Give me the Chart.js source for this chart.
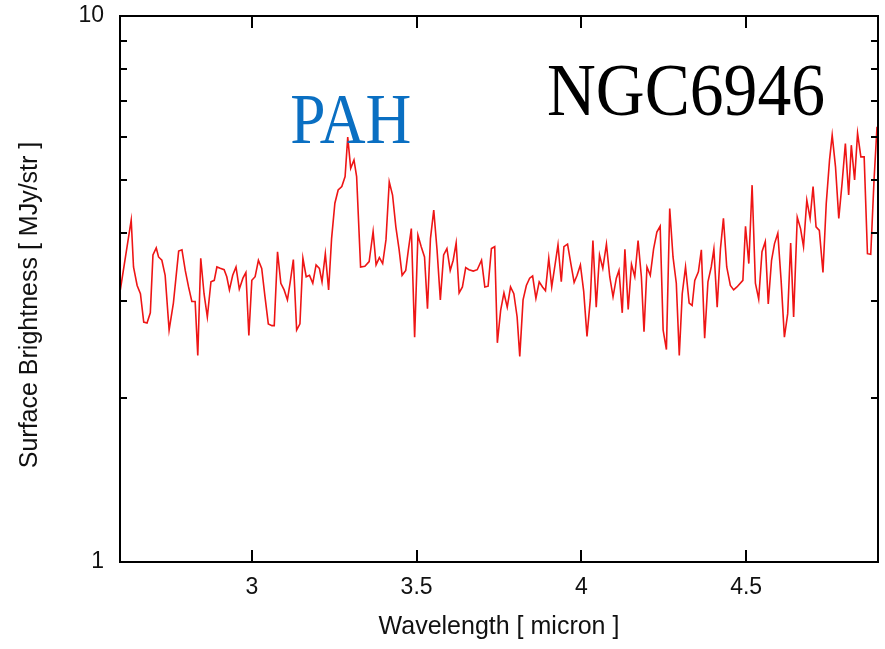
<!DOCTYPE html>
<html>
<head>
<meta charset="utf-8">
<title>NGC6946 spectrum</title>
<script src="https://cdn.jsdelivr.net/npm/chart.js@4/dist/chart.umd.min.js"></script>
<style>
  html, body { margin: 0; padding: 0; background: #ffffff; }
  #wrap { width: 885px; height: 649px; }
</style>
</head>
<body>
<div id="wrap"><canvas id="c" width="885" height="649"></canvas></div>
<script>
// Wavelength grid [micron]
const wavelength = [
  2.601, 2.634, 2.641, 2.652, 2.662, 2.672, 2.682, 2.692, 2.700, 2.710,
  2.717, 2.727, 2.737, 2.749, 2.762, 2.778, 2.788, 2.798, 2.808, 2.818,
  2.828, 2.836, 2.845, 2.855, 2.865, 2.876, 2.886, 2.894, 2.904, 2.916,
  2.924, 2.932, 2.942, 2.952, 2.962, 2.973, 2.982, 2.991, 3.000, 3.010,
  3.020, 3.030, 3.040, 3.050, 3.061, 3.068, 3.078, 3.088, 3.098, 3.108,
  3.116, 3.126, 3.136, 3.146, 3.155, 3.165, 3.175, 3.185, 3.195, 3.205,
  3.213, 3.223, 3.233, 3.242, 3.252, 3.262, 3.273, 3.283, 3.291, 3.300,
  3.310, 3.318, 3.330, 3.343, 3.356, 3.368, 3.377, 3.387, 3.397, 3.407,
  3.417, 3.427, 3.437, 3.447, 3.456, 3.467, 3.475, 3.484, 3.494, 3.504,
  3.514, 3.524, 3.533, 3.542, 3.552, 3.562, 3.572, 3.582, 3.592, 3.602,
  3.611, 3.620, 3.629, 3.639, 3.649, 3.659, 3.672, 3.684, 3.697, 3.707,
  3.717, 3.727, 3.737, 3.745, 3.755, 3.765, 3.775, 3.785, 3.795, 3.805,
  3.813, 3.823, 3.833, 3.843, 3.852, 3.862, 3.872, 3.882, 3.891, 3.901,
  3.910, 3.920, 3.929, 3.939, 3.947, 3.958, 3.968, 3.978, 3.987, 3.997,
  4.007, 4.017, 4.027, 4.035, 4.045, 4.055, 4.065, 4.076, 4.086, 4.096,
  4.106, 4.114, 4.124, 4.132, 4.142, 4.152, 4.162, 4.172, 4.182, 4.190,
  4.199, 4.209, 4.219, 4.229, 4.239, 4.248, 4.258, 4.268, 4.278, 4.288,
  4.297, 4.306, 4.316, 4.327, 4.336, 4.344, 4.355, 4.364, 4.374, 4.384,
  4.394, 4.402, 4.412, 4.422, 4.431, 4.441, 4.452, 4.462, 4.472, 4.490,
  4.498, 4.508, 4.518, 4.528, 4.538, 4.548, 4.558, 4.567, 4.577, 4.586,
  4.596, 4.606, 4.616, 4.626, 4.635, 4.644, 4.655, 4.665, 4.674, 4.684,
  4.694, 4.703, 4.712, 4.722, 4.733, 4.743, 4.753, 4.761, 4.771, 4.781,
  4.791, 4.801, 4.811, 4.819, 4.829, 4.838, 4.848, 4.858, 4.868, 4.878,
  4.888, 4.897
];

// Surface brightness [MJy/str]
const brightness = [
  3.15, 4.23, 3.47, 3.21, 3.10, 2.75, 2.74, 2.86, 3.65, 3.76,
  3.62, 3.57, 3.35, 2.66, 2.98, 3.71, 3.73, 3.42, 3.19, 3.00,
  3.00, 2.39, 3.60, 3.10, 2.81, 3.26, 3.28, 3.47, 3.45, 3.43,
  3.33, 3.15, 3.35, 3.47, 3.16, 3.31, 3.39, 2.60, 3.28, 3.33,
  3.57, 3.45, 3.06, 2.73, 2.71, 2.71, 3.70, 3.24, 3.15, 3.02,
  3.24, 3.58, 2.66, 2.73, 3.60, 3.33, 3.35, 3.24, 3.50, 3.45,
  3.26, 3.67, 3.15, 3.91, 4.54, 4.80, 4.87, 5.08, 6.00, 5.26,
  5.45, 5.08, 3.47, 3.48, 3.55, 4.03, 3.50, 3.61, 3.52, 3.89,
  4.97, 4.70, 4.11, 3.73, 3.35, 3.42, 3.73, 4.08, 2.58, 3.97,
  3.78, 3.62, 2.91, 3.91, 4.41, 3.73, 3.02, 3.65, 3.75, 3.42,
  3.57, 3.84, 3.11, 3.19, 3.46, 3.43, 3.41, 3.43, 3.57, 3.19,
  3.20, 3.75, 3.78, 2.52, 2.89, 3.11, 2.93, 3.19, 3.10, 2.81,
  2.38, 3.02, 3.21, 3.31, 3.34, 3.04, 3.26, 3.19, 3.14, 3.60,
  3.19, 3.50, 3.81, 3.26, 3.78, 3.82, 3.52, 3.25, 3.35, 3.50,
  3.13, 2.59, 3.02, 3.88, 2.93, 3.65, 3.45, 3.82, 3.33, 3.06,
  3.31, 3.42, 2.86, 3.74, 2.90, 3.51, 3.33, 3.88, 3.33, 2.64,
  3.47, 3.35, 3.74, 4.02, 4.12, 2.66, 2.45, 4.44, 3.62, 3.24,
  2.39, 3.10, 3.47, 2.98, 2.95, 3.28, 3.40, 3.73, 2.57, 3.26,
  3.47, 3.74, 2.93, 3.75, 4.26, 3.47, 3.21, 3.15, 3.19, 3.28,
  4.12, 3.52, 4.90, 3.24, 3.03, 3.70, 3.86, 2.97, 3.57, 3.83,
  4.00, 3.28, 2.58, 2.85, 3.84, 2.81, 4.28, 4.08, 3.78, 4.60,
  4.26, 4.87, 4.11, 4.05, 3.39, 4.54, 5.45, 6.05, 5.30, 4.26,
  4.94, 5.84, 4.70, 5.80, 5.01, 6.10, 5.52, 5.52, 3.67, 3.66,
  5.01, 6.27
];

// Axis ticks
const xTickValues = [3, 3.5, 4, 4.5];
const yTickValues = [1, 2, 3, 4, 5, 6, 7, 8, 9, 10];
const yLabeledTicks = [1, 10];

const SANS = "'Liberation Sans', Arial, Helvetica, sans-serif";
const SERIF = "'Liberation Serif', 'Times New Roman', serif";

// Draws the boxed frame with inward tick marks, the axis titles and the labels.
const framePlugin = {
  id: 'frameAndLabels',
  afterDraw(chart) {
    const ctx = chart.ctx;
    const a = chart.chartArea;
    const xs = chart.scales.x;
    const ys = chart.scales.y;
    ctx.save();
    ctx.strokeStyle = '#000';
    ctx.lineWidth = 2;
    ctx.strokeRect(a.left, a.top, a.right - a.left, a.bottom - a.top);

    ctx.beginPath();
    xTickValues.forEach(v => {
      const px = Math.round(xs.getPixelForValue(v));
      ctx.moveTo(px, a.bottom); ctx.lineTo(px, a.bottom - 12);
      ctx.moveTo(px, a.top); ctx.lineTo(px, a.top + 12);
    });
    yTickValues.forEach(v => {
      if (yLabeledTicks.includes(v)) return;
      const py = Math.round(ys.getPixelForValue(v));
      ctx.moveTo(a.left, py); ctx.lineTo(a.left + 7, py);
      ctx.moveTo(a.right, py); ctx.lineTo(a.right - 7, py);
    });
    ctx.stroke();

    // Axis titles
    ctx.fillStyle = '#111';
    ctx.font = '25px ' + SANS;
    ctx.textAlign = 'center';
    ctx.textBaseline = 'alphabetic';
    ctx.fillText('Wavelength [ micron ]', (a.left + a.right) / 2, 634);

    ctx.save();
    ctx.translate(37, 305);
    ctx.rotate(-Math.PI / 2);
    ctx.fillText('Surface Brightness [ MJy/str ]', 0, 0);
    ctx.restore();

    // Labels in the plot
    const drawLabel = (text, font, color, cx, baseline, width) => {
      ctx.save();
      ctx.font = font;
      ctx.fillStyle = color;
      ctx.textAlign = 'center';
      ctx.textBaseline = 'alphabetic';
      const sx = width / ctx.measureText(text).width;
      ctx.translate(cx, baseline);
      ctx.scale(sx, 1);
      ctx.fillText(text, 0, 0);
      ctx.restore();
    };
    drawLabel('PAH', '72px ' + SERIF, '#0a6fc2', xs.getPixelForValue(3.3), 143, 121);
    drawLabel('NGC6946', '75px ' + SERIF, '#000', 686, 115, 278);
    ctx.restore();
  }
};

const points = wavelength.map((w, i) => ({ x: w, y: brightness[i] }));

new Chart(document.getElementById('c'), {
  type: 'line',
  data: {
    datasets: [{
      data: points,
      borderColor: '#ee1515',
      borderWidth: 1.6,
      pointRadius: 0,
      tension: 0,
      fill: false
    }]
  },
  options: {
    responsive: false,
    animation: false,
    devicePixelRatio: 1,
    layout: { padding: { left: 0, top: 16, right: 7, bottom: 0 } },
    plugins: { legend: { display: false }, tooltip: { enabled: false } },
    scales: {
      x: {
        type: 'linear',
        min: 2.6,
        max: 4.9,
        grid: { display: false, drawTicks: false },
        border: { display: false },
        afterBuildTicks: s => { s.ticks = xTickValues.map(v => ({ value: v })); },
        afterFit: s => { s.height = 87; s.paddingLeft = 0; s.paddingRight = 0; },
        ticks: {
          autoSkip: false,
          maxRotation: 0,
          padding: 12,
          color: '#111',
          font: { family: SANS, size: 23 },
          callback: v => String(v)
        }
      },
      y: {
        type: 'logarithmic',
        min: 1,
        max: 10,
        grid: { display: false, drawTicks: false },
        border: { display: false },
        afterBuildTicks: s => { s.ticks = yTickValues.map(v => ({ value: v })); },
        afterFit: s => { s.width = 120; s.paddingTop = 0; s.paddingBottom = 0; },
        ticks: {
          autoSkip: false,
          padding: 16,
          color: '#111',
          font: { family: SANS, size: 23 },
          callback: v => (yLabeledTicks.includes(v) ? String(v) : '')
        }
      }
    }
  },
  plugins: [framePlugin]
});
</script>
</body>
</html>
